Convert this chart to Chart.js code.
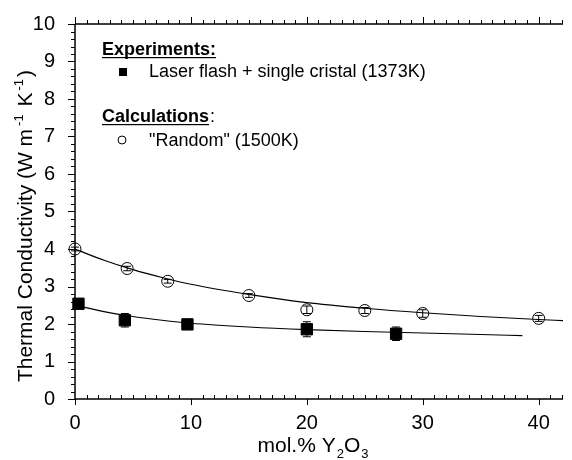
<!DOCTYPE html>
<html>
<head>
<meta charset="utf-8">
<script src="https://cdn.jsdelivr.net/npm/chart.js@4.4.1/dist/chart.umd.min.js"></script>
<style>
  html, body { margin: 0; padding: 0; background: #fff; }
  #wrap { width: 572px; height: 460px; }
</style>
</head>
<body>
<div id="wrap"><canvas id="tcChart" width="572" height="460"></canvas></div>
<script>
// Thermal conductivity vs Y2O3 content
// Experiments (laser flash, single crystal, 1373K)
const expX   = [0.3, 4.3, 9.7, 20, 27.7];
const expY   = [2.54, 2.10, 1.99, 1.86, 1.74];
const expErr = [0.05, 0.18, 0.08, 0.20, 0.18];

// Calculations ("Random", 1500K)
const calcX   = [0, 4.5, 8, 15, 20, 25, 30, 40];
const calcY   = [4.00, 3.48, 3.14, 2.76, 2.38, 2.36, 2.28, 2.15];
const calcErr = [0.05, 0.06, 0.05, 0.05, 0.10, 0.08, 0.10, 0.08];

// fitted curves
const fitCalcX = [0, 2.5, 5, 7.5, 10, 15, 20, 25, 30, 35, 40, 42.1];
const fitCalcY = [4.00, 3.70, 3.45, 3.24, 3.06, 2.79, 2.57, 2.42, 2.30, 2.20, 2.12, 2.09];
const fitExpX  = [0, 2.5, 5, 7.5, 10, 15, 20, 25, 30, 35, 38.6];
const fitExpY  = [2.50, 2.33, 2.20, 2.10, 2.02, 1.92, 1.85, 1.80, 1.76, 1.72, 1.69];

// axes
const xTicks = [0, 10, 20, 30, 40];
const yTicks = [0, 1, 2, 3, 4, 5, 6, 7, 8, 9, 10];
const X_MAX = 42.1;
const Y_MAX = 10;
const X_MINOR = 1;
const Y_MINOR = 0.2;

// text
const legendHead1 = 'Experiments:';
const legendItem1 = 'Laser flash + single cristal (1373K)';
const legendHead2 = 'Calculations';
const legendItem2 = '"Random" (1500K)';

const FONT = '"Liberation Sans", Arial, Helvetica, sans-serif';

const toPts = (xs, ys) => xs.map((x, i) => ({ x: x, y: ys[i] }));

// draw runs of text with super/subscripts, starting at x along baseline
function drawRuns(ctx, runs, x, y, size) {
    let cx = x;
    runs.forEach(r => {
        const s = r.sup || r.sub ? size * 0.62 : size;
        ctx.font = s + 'px ' + FONT;
        const dy = r.sup ? -size * 0.42 : (r.sub ? size * 0.28 : 0);
        cx += r.gap || 0;
        ctx.fillText(r.t, cx, y + dy);
        cx += ctx.measureText(r.t).width;
    });
    return cx - x;
}
function measureRuns(ctx, runs, size) {
    let w = 0;
    runs.forEach(r => {
        const s = r.sup || r.sub ? size * 0.62 : size;
        ctx.font = s + 'px ' + FONT;
        w += (r.gap || 0) + ctx.measureText(r.t).width;
    });
    return w;
}

// frame, inward/outward minor ticks, titles, legend
const framePlugin = {
    id: 'framePlugin',
    afterDraw(chart) {
        const ctx = chart.ctx;
        const a = chart.chartArea;
        const xs = chart.scales.x, ys = chart.scales.y;
        ctx.save();
        ctx.strokeStyle = '#000';
        ctx.lineWidth = 1.5;
        ctx.beginPath();
        ctx.moveTo(a.left, a.top); ctx.lineTo(a.right, a.top);
        ctx.moveTo(a.left, a.top); ctx.lineTo(a.left, a.bottom);
        ctx.moveTo(a.left, a.bottom); ctx.lineTo(a.right, a.bottom);
        ctx.stroke();

        ctx.lineWidth = 1;
        ctx.beginPath();
        // x ticks
        for (let v = 0; v <= X_MAX + 1e-6; v += X_MINOR) {
            const px = Math.round(xs.getPixelForValue(v)) + 0.5;
            const major = xTicks.some(t => Math.abs(t - v) < 1e-6);
            if (major) {
                ctx.moveTo(px, a.bottom); ctx.lineTo(px, a.bottom + 6);
                ctx.moveTo(px, a.top); ctx.lineTo(px, a.top - 7);
            } else {
                ctx.moveTo(px, a.bottom); ctx.lineTo(px, a.bottom - 4);
                ctx.moveTo(px, a.top); ctx.lineTo(px, a.top - 4);
            }
        }
        // y ticks
        for (let v = 0; v <= Y_MAX + 1e-6; v += Y_MINOR) {
            const py = Math.round(ys.getPixelForValue(v)) + 0.5;
            const major = Math.abs(v - Math.round(v)) < 1e-6;
            ctx.moveTo(a.left, py); ctx.lineTo(a.left - (major ? 7 : 4), py);
        }
        ctx.stroke();

        ctx.fillStyle = '#000';
        ctx.textBaseline = 'alphabetic';
        ctx.textAlign = 'left';

        // x title
        const xRuns = [{ t: 'mol.% Y' }, { t: '2', sub: true, gap: 1 }, { t: 'O', gap: 0 }, { t: '3', sub: true, gap: 1 }];
        const xw = measureRuns(ctx, xRuns, 21);
        drawRuns(ctx, xRuns, 313 - xw / 2, 452, 21);

        // y title, rotated
        const yRuns = [{ t: 'Thermal Conductivity (W m' }, { t: '-1', sup: true, gap: 3 },
                       { t: ' K', gap: 2 }, { t: '-1', sup: true, gap: 2 }, { t: ')', gap: 2 }];
        const yw = measureRuns(ctx, yRuns, 21);
        ctx.save();
        ctx.translate(32, 226);
        ctx.rotate(-Math.PI / 2);
        drawRuns(ctx, yRuns, -yw / 2, 0, 21);
        ctx.restore();

        // legend
        ctx.font = 'bold 18px ' + FONT;
        ctx.fillText(legendHead1, 102, 55);
        const w1 = ctx.measureText(legendHead1).width;
        ctx.fillRect(102, 57, w1, 1.2);

        ctx.fillRect(119, 68, 8, 8);
        ctx.font = '18px ' + FONT;
        ctx.fillText(legendItem1, 149, 77);

        ctx.font = 'bold 18px ' + FONT;
        ctx.fillText(legendHead2, 102, 122);
        const w2 = ctx.measureText(legendHead2).width;
        ctx.fillRect(102, 124, w2, 1.2);
        ctx.font = '18px ' + FONT;
        ctx.fillText(':', 102 + w2 + 1, 122);

        ctx.beginPath();
        ctx.lineWidth = 1;
        ctx.arc(122, 140, 4, 0, Math.PI * 2);
        ctx.stroke();
        ctx.fillText(legendItem2, 149, 146);

        ctx.restore();
    }
};

// vertical error bars drawn from the dataset's own points
const errorBarPlugin = {
    id: 'errorBarPlugin',
    afterDatasetsDraw(chart) {
        const ctx = chart.ctx;
        const ys = chart.scales.y;
        ctx.save();
        ctx.strokeStyle = '#000';
        ctx.lineWidth = 1;
        chart.data.datasets.forEach((ds, di) => {
            if (!ds.errors) return;
            const meta = chart.getDatasetMeta(di);
            meta.data.forEach((pt, i) => {
                const v = ds.data[i].y, e = ds.errors[i];
                const y1 = ys.getPixelForValue(v - e), y2 = ys.getPixelForValue(v + e);
                ctx.beginPath();
                ctx.moveTo(pt.x, y1); ctx.lineTo(pt.x, y2);
                ctx.moveTo(pt.x - 4, y1); ctx.lineTo(pt.x + 4, y1);
                ctx.moveTo(pt.x - 4, y2); ctx.lineTo(pt.x + 4, y2);
                ctx.stroke();
            });
        });
        ctx.restore();
    }
};

new Chart(document.getElementById('tcChart'), {
    type: 'scatter',
    data: {
        datasets: [
            {
                label: 'fit calc',
                data: toPts(fitCalcX, fitCalcY),
                showLine: true,
                borderColor: '#000',
                borderWidth: 1.2,
                pointRadius: 0,
                cubicInterpolationMode: 'monotone'
            },
            {
                label: 'fit exp',
                data: toPts(fitExpX, fitExpY),
                showLine: true,
                borderColor: '#000',
                borderWidth: 1.2,
                pointRadius: 0,
                cubicInterpolationMode: 'monotone'
            },
            {
                label: legendItem2,
                data: toPts(calcX, calcY),
                errors: calcErr,
                pointStyle: 'circle',
                pointRadius: 6,
                borderColor: '#000',
                borderWidth: 1,
                backgroundColor: 'rgba(0,0,0,0)',
                clip: false
            },
            {
                label: legendItem1,
                data: toPts(expX, expY),
                errors: expErr,
                pointStyle: 'rect',
                pointRadius: 8,
                borderColor: '#000',
                borderWidth: 1,
                backgroundColor: '#000',
                clip: false
            }
        ]
    },
    options: {
        responsive: false,
        animation: false,
        devicePixelRatio: 1,
        layout: { padding: { top: 23, right: 0, left: 0, bottom: 0 } },
        plugins: { legend: { display: false }, tooltip: { enabled: false } },
        scales: {
            x: {
                type: 'linear',
                min: 0,
                max: X_MAX,
                grid: { display: false },
                border: { display: false },
                afterBuildTicks: s => { s.ticks = xTicks.map(v => ({ value: v })); },
                afterFit: s => { s.height = 61; },
                ticks: {
                    autoSkip: false,
                    maxRotation: 0,
                    padding: 4,
                    color: '#000',
                    font: { family: FONT, size: 20 }
                }
            },
            y: {
                min: 0,
                max: Y_MAX,
                grid: { display: false },
                border: { display: false },
                afterBuildTicks: s => { s.ticks = yTicks.map(v => ({ value: v })); },
                afterFit: s => { s.width = 75; },
                ticks: {
                    autoSkip: false,
                    padding: 12,
                    color: '#000',
                    font: { family: FONT, size: 20 }
                }
            }
        }
    },
    plugins: [framePlugin, errorBarPlugin]
});
</script>
</body>
</html>
